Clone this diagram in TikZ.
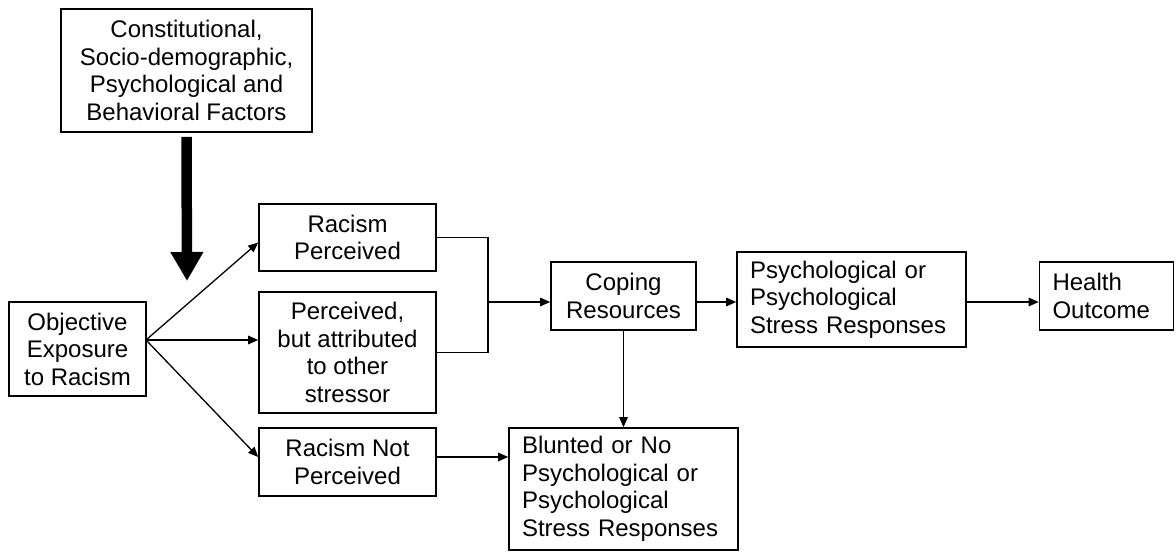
\documentclass[tikz,border=0pt]{standalone}
\usepackage{fontspec}
\setmainfont{Liberation Sans}
\usepackage{tikz}
\usetikzlibrary{arrows.meta}

\begin{document}
\begin{tikzpicture}[x=1pt,y=-1pt,
    box/.style={draw, line width=1.6pt, inner sep=0pt, align=center,
      font=\fontsize{24}{27.5}\selectfont},
    lbox/.style={box, align=left, inner xsep=13pt},
    link/.style={line width=1.3pt, -{Triangle[length=10pt,width=8.5pt]}}]
    \useasboundingbox (0,0) rectangle (1176,553);
    \node [box, minimum width=251pt, minimum height=123pt] (factors) at (186.5,70.5)
      {Constitutional,\\Socio-demographic,\\Psychological and\\Behavioral Factors};
    \node [box, minimum width=137pt, minimum height=94pt] (objective) at (77.5,349)
      {Objective\\Exposure\\to Racism};
    \node [box, minimum width=177pt, minimum height=67pt] (perceived) at (347.5,237.5)
      {Racism\\Perceived};
    \node [box, minimum width=177pt, minimum height=121pt] (attributed) at (347.5,352.5)
      {Perceived,\\but attributed\\to other\\stressor};
    \node [box, minimum width=177pt, minimum height=68pt] (notperceived) at (347.5,462)
      {Racism Not\\Perceived};
    \node [box, minimum width=145pt, minimum height=68pt] (coping) at (623.5,296)
      {Coping\\Resources};
    \node [lbox, text width=203pt, minimum height=122pt] (blunted) at (623.5,489)
      {Blunted or No\\Psychological or\\Psychological\\Stress Responses};
    \node [lbox, text width=203pt, minimum height=95pt] (stress) at (851.5,299.5)
      {Psychological or\\Psychological\\Stress Responses};
    \node [lbox, text width=108pt, minimum height=68pt] (health) at (1106.5,296)
      {Health\\Outcome};
    \coordinate (tip) at (187,281);
    \coordinate (source) at (146,340);
    \coordinate (join) at (488,302);
    \draw [line width=10.5pt, -{Triangle[length=29pt,width=31pt]}]
      ([yshift=-4pt]factors.south) -- (tip);
    \draw [link] (source) -- ([yshift=-5pt]perceived.west);
    \draw [link] (source) -- (source -| attributed.west);
    \draw [link] (source) -- ([yshift=5pt]notperceived.west);
    \draw [line width=1.3pt] (perceived.east) -| (join);
    \draw [line width=1.3pt] (attributed.east) -| (join);
    \draw [link] (join) -- (join -| coping.west);
    \draw [link] (join -| coping.east) -- (join -| stress.west);
    \draw [link] (join -| stress.east) -- (join -| health.west);
    \draw [link] (coping.south) -- (blunted.north);
    \draw [link] ([yshift=5pt]notperceived.east) -- ([yshift=5pt]notperceived.east -| blunted.west);
\end{tikzpicture}
\end{document}
